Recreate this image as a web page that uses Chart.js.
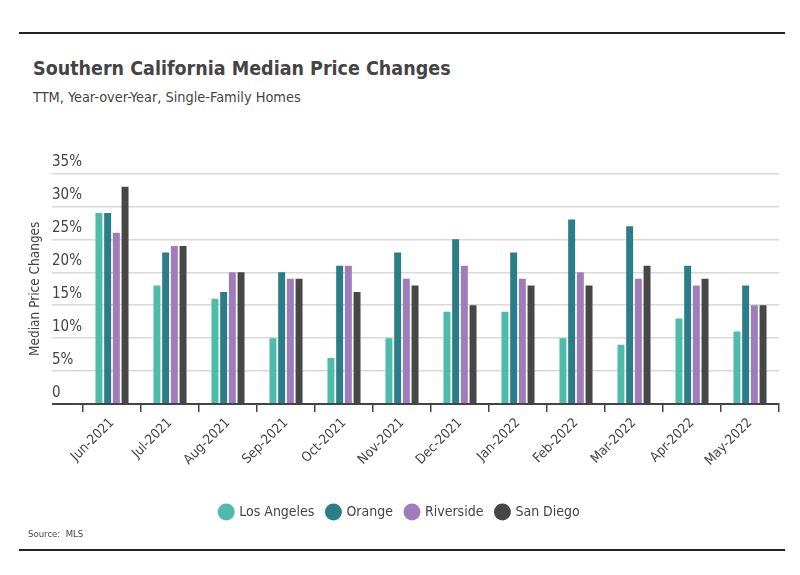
<!DOCTYPE html>
<html>
<head>
<meta charset="utf-8">
<script src="https://cdn.jsdelivr.net/npm/chart.js@4.4.1/dist/chart.umd.min.js"></script>
<style>
body{margin:0;background:#fff;font-family:'Liberation Sans Narrow','DejaVu Sans Condensed',sans-serif;color:#444}
#wrap{position:relative;width:800px;height:575px;overflow:hidden}
.linea{position:absolute;left:19px;width:766px;height:2px;background:#222}
#titulo{position:absolute;left:33px;top:57px;font-size:19.5px;font-weight:bold;color:#444}
#subtitulo{position:absolute;left:33px;top:89px;font-size:14.4px;color:#444}
#fuente{position:absolute;left:28px;top:528px;font-size:9.5px;color:#444}
#caja{position:absolute;left:0;top:120px;width:800px;height:409px}
</style>
</head>
<body>
<div id="wrap">
  <div class="linea" style="top:32px"></div>
  <div id="titulo">Southern California Median Price Changes</div>
  <div id="subtitulo">TTM, Year-over-Year, Single-Family Homes</div>
  <div id="caja"><canvas id="grafica"></canvas></div>
  <div id="fuente">Source:&nbsp; MLS</div>
  <div class="linea" style="top:549px"></div>
</div>
<script>
// datos
const meses = ['Jun-2021','Jul-2021','Aug-2021','Sep-2021','Oct-2021','Nov-2021',
               'Dec-2021','Jan-2022','Feb-2022','Mar-2022','Apr-2022','May-2022'];
const losAngeles = [29,18,16,10,7,10,14,14,10,9,13,11];
const orange     = [29,23,17,20,21,23,25,23,28,27,21,18];
const riverside  = [26,24,20,19,21,19,21,19,20,19,18,15];
const sanDiego   = [33,24,20,19,17,18,15,18,18,21,19,15];
const ticksY = [0,5,10,15,20,25,30,35];

const familia = "'Liberation Sans Narrow','DejaVu Sans Condensed',sans-serif";
const gris = '#444';

function serie(nombre, datos, color){
    return { label: nombre, data: datos, backgroundColor: color, borderWidth: 0,
             categoryPercentage: 0.6, barPercentage: 0.8 };
}

const ctx = document.getElementById('grafica').getContext('2d');
window.grafica = new Chart(ctx, {
    type: 'bar',
    data: {
        labels: meses,
        datasets: [
            serie('Los Angeles', losAngeles, '#4fbcaa'),
            serie('Orange', orange, '#2b7d87'),
            serie('Riverside', riverside, '#a07dba'),
            serie('San Diego', sanDiego, '#474747')
        ]
    },
    options: {
        responsive: true,
        maintainAspectRatio: false,
        animation: false,
        layout: { padding: { left: 21, right: 21, top: 53.5, bottom: 0 } },
        plugins: {
            tooltip: { enabled: false },
            legend: {
                position: 'bottom',
                labels: {
                    usePointStyle: true, pointStyle: 'circle',
                    boxWidth: 12, boxHeight: 12, padding: 13,
                    color: gris, font: { family: familia, size: 14 }
                }
            }
        },
        scales: {
            x: {
                offset: true,
                grid: { offset: true, drawOnChartArea: false, drawTicks: true,
                        tickLength: 8, color: gris, lineWidth: 1.5 },
                border: { display: true, color: gris, width: 2 },
                ticks: { minRotation: 45, maxRotation: 45, padding: 3,
                         color: gris, font: { family: familia, size: 13.5 } },
                afterFit(s){ s.height = 88; }
            },
            y: {
                min: 0, max: 35, weight: 0,
                afterBuildTicks(s){ s.ticks = ticksY.map(v => ({ value: v })); },
                ticks: {
                    crossAlign: 'far', labelOffset: -11,
                    color: gris, font: { family: familia, size: 15 },
                    callback: v => v === 0 ? '0' : v + '%'
                },
                grid: {
                    drawTicks: true, tickLength: 31,
                    color: c => c.tick && c.tick.value === 0 ? gris : '#d9d9d9',
                    lineWidth: c => c.tick && c.tick.value === 0 ? 2 : 1.5
                },
                border: { display: false },
                afterFit(s){ s.width = 31; }
            },
            yTitulo: {
                type: 'linear', position: 'left', weight: 1,
                ticks: { display: false },
                grid: { display: false, drawTicks: false },
                border: { display: false },
                title: { display: true, text: 'Median Price Changes', color: gris,
                         font: { family: familia, size: 13.5 }, padding: { top: 6, bottom: 0 } },
                afterFit(s){ s.width = 31; }
            }
        }
    }
});
</script>
</body>
</html>
